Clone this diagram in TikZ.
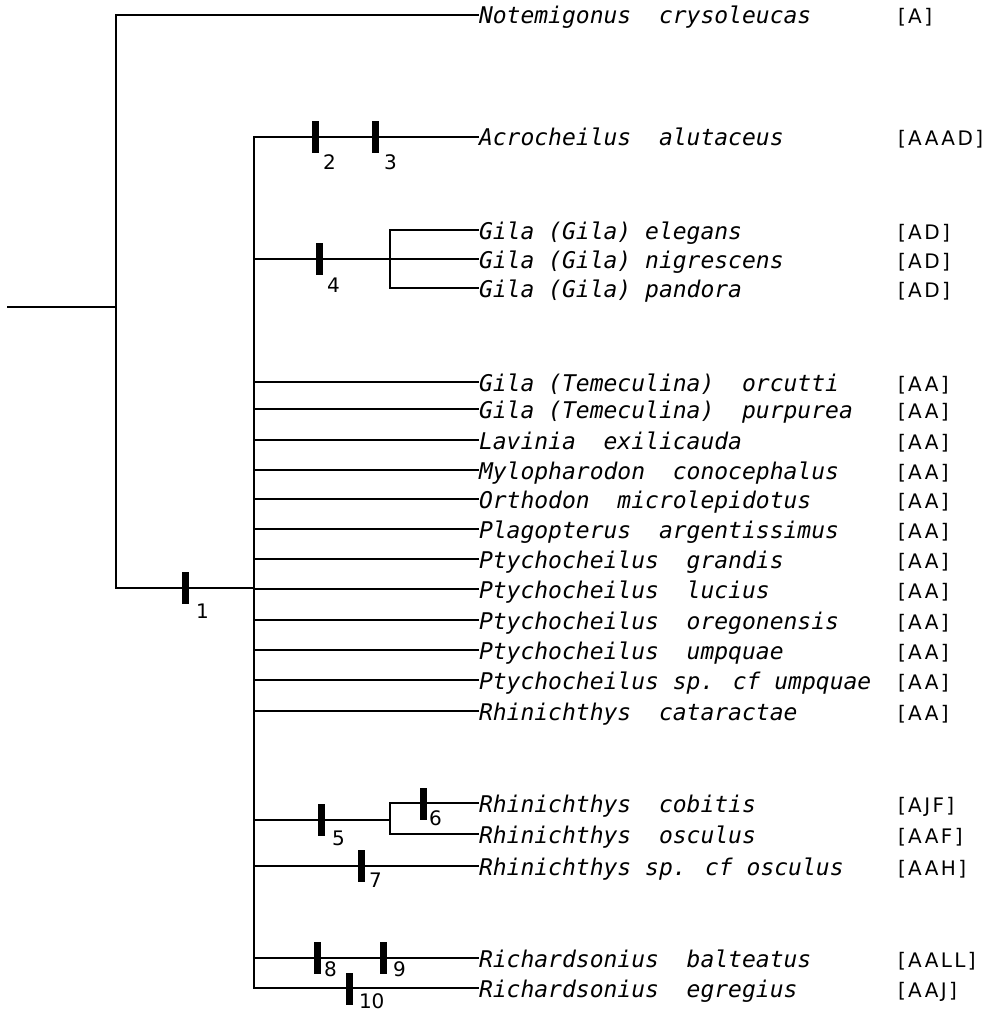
\documentclass[tikz,border=0pt]{standalone}
\usepackage{fontspec}
\newfontfamily\namefont{DejaVu Sans Mono}
\newfontfamily\codefont[LetterSpace=12]{DejaVu Sans}
\newfontfamily\numfont{DejaVu Sans}
\begin{document}
\begin{tikzpicture}[x=1pt,y=-1pt,line width=2pt,line cap=rect,
  leaf/.style={anchor=west,inner sep=0pt,text height=22pt,text depth=4pt,
    font={\namefont\itshape\fontsize{23}{26}\selectfont}},
  code/.style={anchor=west,inner sep=0pt,text height=22pt,text depth=4pt,
    font={\codefont\fontsize{20}{24}\selectfont}},
  tick/.style={rectangle,fill=black,draw=none,inner sep=0pt,
    minimum width=7pt,minimum height=32pt},
  num/.style={anchor=north west,inner sep=0pt,
    font={\numfont\fontsize{20}{24}\selectfont}}]
\useasboundingbox (0,0) rectangle (992,1014);
% leaves
\foreach \n/\y/\t/\c in {
  t1/15/{Notemigonus~~crysoleucas}/{[A]},
  t2/137/{Acrocheilus~~alutaceus}/{[AAAD]},
  t3/230/{Gila (Gila) elegans}/{[AD]},
  t4/259/{Gila (Gila) nigrescens}/{[AD]},
  t5/288/{Gila (Gila) pandora}/{[AD]},
  t6/382/{Gila (Temeculina)~~orcutti}/{[AA]},
  t7/409/{Gila (Temeculina)~~purpurea}/{[AA]},
  t8/440/{Lavinia~~exilicauda}/{[AA]},
  t9/470/{Mylopharodon~~conocephalus}/{[AA]},
  t10/499/{Orthodon~~microlepidotus}/{[AA]},
  t11/529/{Plagopterus~~argentissimus}/{[AA]},
  t12/559/{Ptychocheilus~~grandis}/{[AA]},
  t13/589/{Ptychocheilus~~lucius}/{[AA]},
  t14/620/{Ptychocheilus~~oregonensis}/{[AA]},
  t15/650/{Ptychocheilus~~umpquae}/{[AA]},
  t16/680/{Ptychocheilus sp. cf umpquae}/{[AA]},
  t17/711/{Rhinichthys~~cataractae}/{[AA]},
  t18/803/{Rhinichthys~~cobitis}/{[AJF]},
  t19/834/{Rhinichthys~~osculus}/{[AAF]},
  t20/866/{Rhinichthys sp. cf osculus}/{[AAH]},
  t21/958/{Richardsonius~~balteatus}/{[AALL]},
  t22/988/{Richardsonius~~egregius}/{[AAJ]}}{
  \node[leaf] (\n) at (478,\y) {\t};
  \node[code] (c\n) at (897,\y) {\c};
}
% internal points
\coordinate (r0) at (8,307);
\coordinate (r1) at (116,307);
\coordinate (n0) at (116,15);
\coordinate (n1) at (116,588);
\coordinate (ctop) at (254,137);
\coordinate (cmid) at (254,588);
\coordinate (cbot) at (254,988);
\coordinate (g0) at (254,259);
\coordinate (g1) at (390,259);
\coordinate (gt) at (390,230);
\coordinate (gb) at (390,288);
\coordinate (h0) at (254,820);
\coordinate (h1) at (390,820);
\coordinate (ht) at (390,803);
\coordinate (hb) at (390,834);
% branches
\draw (r0) -- (r1);
\draw (t1.west) -- (n0) -- (n1) -- (cmid);
\draw (t2.west) -- (ctop) -- (cbot) -- (t22.west);
\draw (g0) -- (g1);
\draw (t3.west) -- (gt) -- (gb) -- (t5.west);
\draw (g1) -- (t4.west);
\foreach \n in {t6,t7,t8,t9,t10,t11,t12,t13,t14,t15,t16,t17,t20,t21}
  \draw (ctop |- \n.west) -- (\n.west);
\draw (h0) -- (h1);
\draw (t18.west) -- (ht) -- (hb) -- (t19.west);
% character ticks
\node[tick] (k1) at (185,588) {};
\node[tick] (k2) at (315,137) {};
\node[tick] (k3) at (375,137) {};
\node[tick] (k4) at (319,259) {};
\node[tick] (k5) at (321,820) {};
\node[tick] (k6) at (423,804) {};
\node[tick] (k7) at (361,866) {};
\node[tick] (k8) at (317,958) {};
\node[tick] (k9) at (383,958) {};
\node[tick] (k10) at (349,989) {};
\node[num] (l1) at (195,603) {1};
\node[num] (l2) at (322,154) {2};
\node[num] (l3) at (383,154) {3};
\node[num] (l4) at (326,277) {4};
\node[num] (l5) at (331,830) {5};
\node[num] (l6) at (428,810) {6};
\node[num] (l7) at (368,872) {7};
\node[num] (l8) at (323,961) {8};
\node[num] (l9) at (392,961) {9};
\node[num] (l10) at (358,993) {10};
\end{tikzpicture}
\end{document}
